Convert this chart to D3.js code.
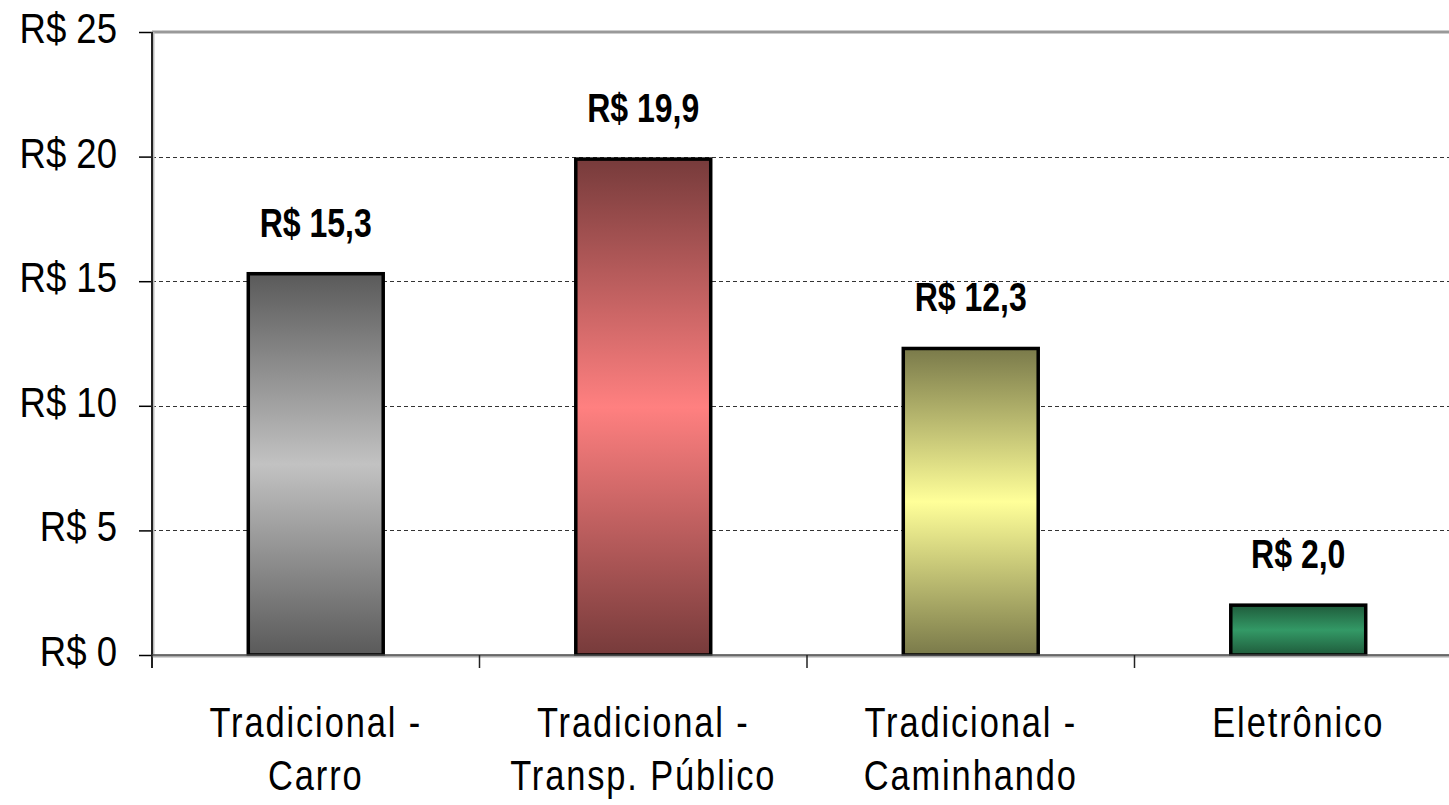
<!DOCTYPE html>
<html>
<head>
<meta charset="utf-8">
<script src="https://cdn.jsdelivr.net/npm/d3@7"></script>
<style>
  html, body { margin: 0; padding: 0; background: #fff; }
  svg { display: block; }
  text { font-family: "Liberation Sans", Arial, sans-serif; }
</style>
</head>
<body>
<svg id="chart" width="1449" height="805"></svg>
<script>
const categories = [["Tradicional -", "Carro"], ["Tradicional -", "Transp. Público"], ["Tradicional -", "Caminhando"], ["Eletrônico"]];
const values = [15.3, 19.9, 12.3, 2.0];
const valueLabels = ["R$ 15,3", "R$ 19,9", "R$ 12,3", "R$ 2,0"];
const yTicks = [0, 5, 10, 15, 20, 25];
const yTickLabels = ["R$ 0", "R$ 5", "R$ 10", "R$ 15", "R$ 20", "R$ 25"];
const barEndColors = ["#5a5a5a", "#773b3b", "#7a7a4a", "#1f5b3b"];
const barMidColors = ["#c2c2c2", "#ff8080", "#ffff99", "#339966"];

const svg = d3.select("#chart");
const plotLeft = 152, plotTop = 32, plotBottom = 655, plotRight = 1462;

const x = d3.scaleBand().domain(d3.range(values.length)).range([plotLeft, plotRight]).paddingInner(0.588).paddingOuter(0.294);
const y = d3.scaleLinear().domain([0, 25]).range([plotBottom, plotTop]);

// narrow text helper: real text, horizontally condensed
function narrowText(parent, px, py, sx) {
  return parent.append("g").attr("transform", `translate(${px},${py}) scale(${sx},1)`).append("text");
}

const defs = svg.append("defs");
values.forEach((v, i) => {
  const g = defs.append("linearGradient").attr("id", "grad" + i)
    .attr("x1", 0).attr("y1", 0).attr("x2", 0).attr("y2", 1);
  g.append("stop").attr("offset", "0%").attr("stop-color", barEndColors[i]);
  g.append("stop").attr("offset", "50%").attr("stop-color", barMidColors[i]);
  g.append("stop").attr("offset", "100%").attr("stop-color", barEndColors[i]);
});

// grid lines
svg.append("g").selectAll("line").data(yTicks.filter(t => t > 0 && t < 25)).join("line")
  .attr("x1", plotLeft).attr("x2", 1449)
  .attr("y1", d => Math.round(y(d)) + 0.5).attr("y2", d => Math.round(y(d)) + 0.5)
  .attr("stroke", "#333").attr("stroke-width", 1).attr("stroke-dasharray", "4,3");

// top border
svg.append("line").attr("x1", plotLeft).attr("x2", 1449).attr("y1", y(25)).attr("y2", y(25))
  .attr("stroke", "#999").attr("stroke-width", 3);

// y axis ticks
const yAxis = d3.axisLeft(y).tickValues(yTicks).tickFormat("").tickSize(13);
const yg = svg.append("g").attr("transform", `translate(${plotLeft},0)`).call(yAxis);
yg.select(".domain").remove();
yg.selectAll(".tick line").attr("stroke", "#000").attr("stroke-width", 1.5);

// y tick labels
const ylg = svg.append("g");
yTicks.forEach((t, i) => {
  narrowText(ylg, 117, y(t) + 11, 0.87)
    .attr("text-anchor", "end").attr("font-size", 42).attr("fill", "#000")
    .text(yTickLabels[i]);
});

// bars
svg.append("g").selectAll("rect").data(values).join("rect")
  .attr("x", (d, i) => x(i)).attr("width", x.bandwidth())
  .attr("y", d => y(d)).attr("height", d => y(0) - y(d))
  .attr("fill", (d, i) => `url(#grad${i})`)
  .attr("stroke", "#000").attr("stroke-width", 3.5);

// axis lines
svg.append("line").attr("x1", plotLeft + 1.5).attr("x2", plotLeft + 1.5).attr("y1", plotTop).attr("y2", plotBottom)
  .attr("stroke", "#bbb").attr("stroke-width", 2);
svg.append("line").attr("x1", plotLeft).attr("x2", plotLeft).attr("y1", plotTop).attr("y2", plotBottom + 13)
  .attr("stroke", "#222").attr("stroke-width", 2);
svg.append("line").attr("x1", plotLeft).attr("x2", 1449).attr("y1", plotBottom + 1.5).attr("y2", plotBottom + 1.5)
  .attr("stroke", "#aaa").attr("stroke-width", 2);
svg.append("line").attr("x1", plotLeft).attr("x2", 1449).attr("y1", plotBottom).attr("y2", plotBottom)
  .attr("stroke", "#444").attr("stroke-width", 1.5);

// x ticks (category boundaries)
const step = x.step();
svg.append("g").selectAll("line").data(d3.range(values.length + 1)).join("line")
  .attr("x1", i => plotLeft + i * step).attr("x2", i => plotLeft + i * step)
  .attr("y1", plotBottom).attr("y2", plotBottom + 13)
  .attr("stroke", "#222").attr("stroke-width", 1.5);

// value labels
const vlg = svg.append("g");
values.forEach((v, i) => {
  narrowText(vlg, x(i) + x.bandwidth() / 2, y(v) - 37, 0.8)
    .attr("text-anchor", "middle").attr("font-weight", "bold").attr("font-size", 40).attr("fill", "#000")
    .text(valueLabels[i]);
});

// category labels
const cg = svg.append("g");
categories.forEach((lines, i) => {
  lines.forEach((ln, j) => {
    narrowText(cg, x(i) + x.bandwidth() / 2, 737 + j * 53, 0.82)
      .attr("text-anchor", "middle").attr("font-size", 42).attr("letter-spacing", 2.3).attr("fill", "#000")
      .text(ln);
  });
});
</script>
</body>
</html>
